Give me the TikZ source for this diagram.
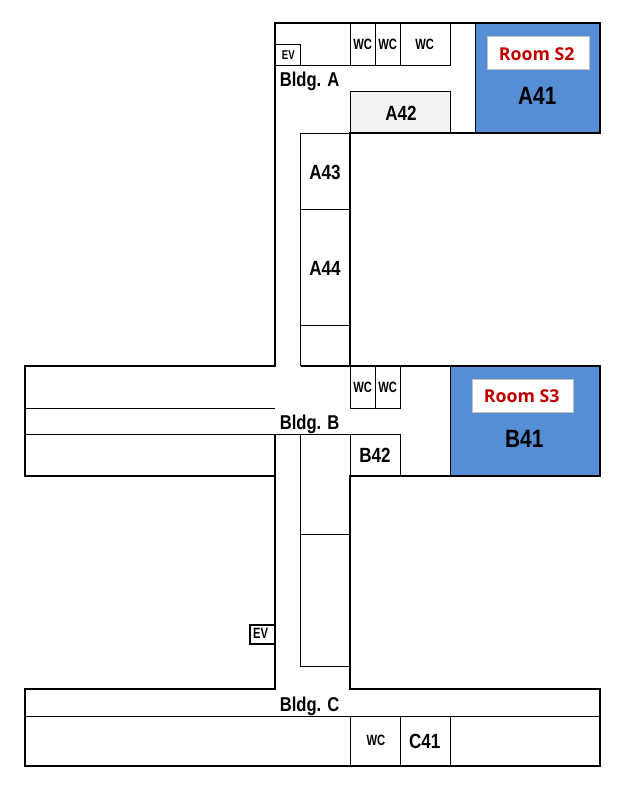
\documentclass[tikz,border=0pt]{standalone}
\usepackage{fontspec}
\setmainfont{Liberation Sans}
\newfontfamily\roomfont{Open Sans}
\newfontfamily\labelfont[FakeStretch=0.83]{Liberation Sans}
\newfontfamily\wcfont[FakeStretch=0.75]{Liberation Sans}
\definecolor{roomblue}{HTML}{558ED5}
\definecolor{roomred}{HTML}{C00000}
\definecolor{lightfill}{HTML}{F2F2F2}
\definecolor{labeledge}{HTML}{BFBFBF}
\tikzset{
  wall/.style={draw=black,line width=1.7pt,line join=miter},
  thin wall/.style={draw=black,line width=0.85pt},
  bluebox/.style={fill=roomblue,draw=none},
  namelabel/.style={inner sep=0pt,anchor=base,font=\labelfont\bfseries\fontsize{15.4}{16}\selectfont},
  bldg/.style={inner sep=0pt,anchor=base west,font=\labelfont\bfseries\fontsize{15}{16}\selectfont},
  wclabel/.style={inner sep=0pt,anchor=base,font=\wcfont\bfseries\fontsize{11.2}{12}\selectfont},
  evsmall/.style={inner sep=0pt,anchor=base,font=\wcfont\bfseries\fontsize{9.6}{11}\selectfont},
  biglabel/.style={inner sep=0pt,anchor=base,font=\labelfont\bfseries\fontsize{18.8}{20}\selectfont},
  tagbox/.style={draw=labeledge,line width=0.75pt,fill=white,inner sep=0pt},
  tagtext/.style={text=roomred,inner sep=0pt,font=\roomfont\bfseries\fontsize{13.3}{14}\selectfont}
}
\begin{document}
\begin{tikzpicture}[x=0.75pt,y=-0.75pt]
\useasboundingbox (0,0) rectangle (628,785);
\fill[white] (0,0) rectangle (628,785);
% blue rooms
\fill[bluebox] (475.5,23) rectangle (600,133);
\fill[bluebox] (450.5,366) rectangle (600,476);
\fill[lightfill] (350.5,91.5) rectangle (450.5,133);
% Bldg A
\draw[thin wall] (350.5,23) -- (350.5,65.5) (375.5,23) -- (375.5,65.5) (400.5,23) -- (400.5,65.5) (450.5,23) -- (450.5,65.5);
\draw[thin wall] (275,44.5) -- (300.5,44.5) -- (300.5,65.5);
\draw[thin wall] (275,65.5) -- (450.5,65.5);
\draw[thin wall] (350.5,133) -- (350.5,91.5) -- (450.5,91.5) -- (450.5,133);
\draw[thin wall] (475.5,23) -- (475.5,133);
\draw[thin wall] (300.5,366) -- (300.5,133.5) -- (350,133.5);
\draw[thin wall] (300.5,209.5) -- (350,209.5) (300.5,325.5) -- (350,325.5);
% Bldg B
\draw[thin wall] (350.5,366) -- (350.5,408.5) -- (400.5,408.5) -- (400.5,366) (375.5,366) -- (375.5,408.5);
\draw[thin wall] (25,408.5) -- (275,408.5);
\draw[thin wall] (25,434.5) -- (400.5,434.5) -- (400.5,476);
\draw[thin wall] (300.5,434.5) -- (300.5,476) (350.5,434.5) -- (350.5,476);
\draw[thin wall] (450.5,366) -- (450.5,476);
\draw[thin wall,line width=1.1pt] (275.2,434.5) -- (275.2,476);
% lower corridor rooms
\draw[thin wall] (300.5,476) -- (300.5,666.5) -- (350,666.5);
\draw[thin wall] (300.5,534.5) -- (350,534.5);
% lower EV
\draw[wall] (275,625) -- (250,625) -- (250,644) -- (275,644);
% Bldg C
\draw[thin wall] (25,716.5) -- (600,716.5);
\draw[thin wall] (350.5,716.5) -- (350.5,766) (400.5,716.5) -- (400.5,766) (450.5,716.5) -- (450.5,766);
% outer walls
\draw[wall] (275,366) -- (275,23) -- (600,23) -- (600,133) -- (350,133) -- (350,366) -- (600,366) -- (600,476) -- (350,476) -- (350,689) -- (600,689) -- (600,766) -- (25,766) -- (25,689) -- (275,689) -- (275,476) -- (25,476) -- (25,366) -- cycle;
\draw[thin wall] (300.5,366) -- (350,366);
% labels
\node[evsmall] (ev1) at (288.3,59.3) {EV};
\node[wclabel] (wc1) at (362.7,49.3) {WC};
\node[wclabel] (wc2) at (387.7,49.3) {WC};
\node[wclabel] (wc3) at (424.7,49.3) {WC};
\node[bldg] (bldga) at (279.5,86) {Bldg. A};
\node[namelabel] (a42) at (401,120) {A42};
\node[namelabel] (a43) at (325,179.5) {A43};
\node[namelabel] (a44) at (325,275.5) {A44};
\node[tagbox,minimum width=76.9pt,minimum height=25.1pt] (s2box) at (538.5,53) {};
\node[tagtext] (s2) at (536.7,54) {Room S2};
\node[biglabel] (a41) at (537.3,104.5) {A41};
\node[wclabel] (wc4) at (362.7,392.3) {WC};
\node[wclabel] (wc5) at (387.7,392.3) {WC};
\node[bldg] (bldgb) at (279.5,429) {Bldg. B};
\node[namelabel] (b42) at (375,462.7) {B42};
\node[tagbox,minimum width=76.1pt,minimum height=25.1pt] (s3box) at (523,396) {};
\node[tagtext] (s3) at (521.7,396.3) {Room S3};
\node[biglabel] (b41) at (524.3,447.7) {B41};
\node[wclabel] (ev2) at (260.7,638.3) {EV};
\node[bldg] (bldgc) at (279.5,711) {Bldg. C};
\node[wclabel] (wc6) at (376,745.7) {WC};
\node[namelabel] (c41) at (424.7,748) {C41};
\end{tikzpicture}
\end{document}
